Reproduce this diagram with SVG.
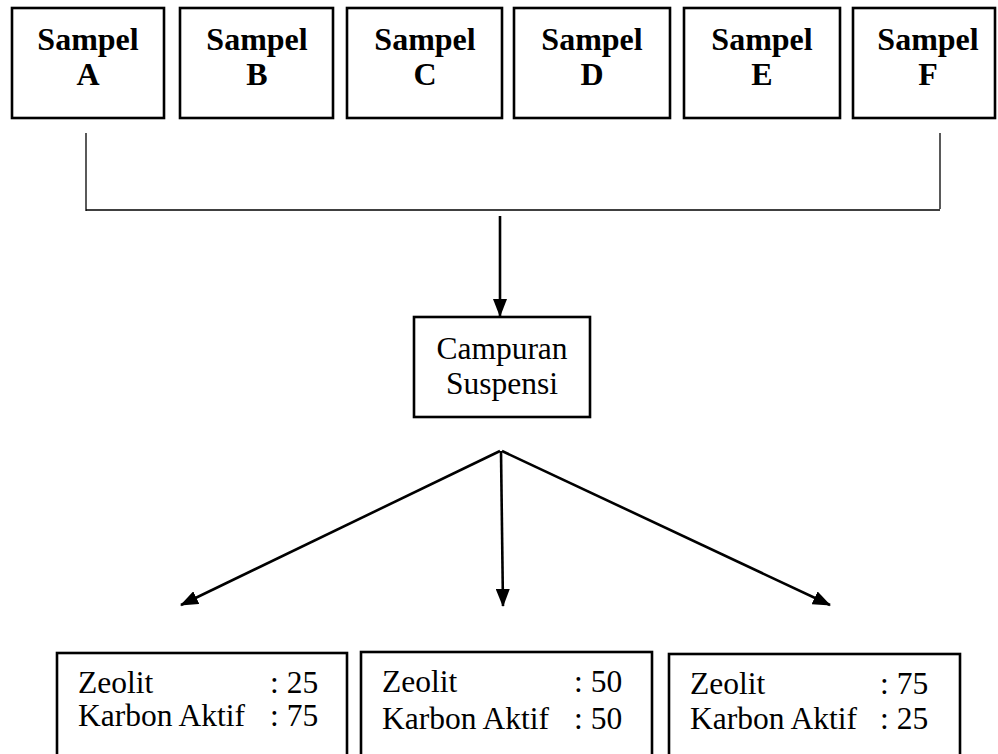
<svg xmlns="http://www.w3.org/2000/svg" width="998" height="754" viewBox="0 0 998 754">
  <defs>
    <marker id="arrow" viewBox="0 0 18 14" refX="17" refY="7" markerWidth="18" markerHeight="14" markerUnits="userSpaceOnUse" orient="auto">
      <path d="M0,0 L18,7 L0,14 Z" fill="#000"/>
    </marker>
    <style>
      .box { fill: #fff; stroke: #000; stroke-width: 2.6; }
      .thin { stroke: #000; stroke-width: 1.3; fill: none; }
      .arr { stroke: #000; stroke-width: 2.6; fill: none; marker-end: url(#arrow); }
      .bold { font-family: "Liberation Serif", "Times New Roman", serif; font-weight: bold; font-size: 32px; text-anchor: middle; fill: #000; }
      .reg { font-family: "Liberation Serif", "Times New Roman", serif; font-size: 31.5px; fill: #000; }
      .mid { text-anchor: middle; }
    </style>
  </defs>

  <rect width="998" height="754" fill="#fff"/>

  <!-- sample boxes -->
  <g id="sampelA">
    <rect class="box" x="12" y="8" width="152" height="110"/>
    <text class="bold" x="88" y="50">Sampel</text>
    <text class="bold" x="88" y="85">A</text>
  </g>
  <g id="sampelB">
    <rect class="box" x="180" y="8" width="153" height="110"/>
    <text class="bold" x="257" y="50">Sampel</text>
    <text class="bold" x="257" y="85">B</text>
  </g>
  <g id="sampelC">
    <rect class="box" x="347" y="8" width="155" height="110"/>
    <text class="bold" x="425" y="50">Sampel</text>
    <text class="bold" x="425" y="85">C</text>
  </g>
  <g id="sampelD">
    <rect class="box" x="514" y="8" width="156" height="110"/>
    <text class="bold" x="592" y="50">Sampel</text>
    <text class="bold" x="592" y="85">D</text>
  </g>
  <g id="sampelE">
    <rect class="box" x="684" y="8" width="156" height="110"/>
    <text class="bold" x="762" y="50">Sampel</text>
    <text class="bold" x="762" y="85">E</text>
  </g>
  <g id="sampelF">
    <rect class="box" x="853" y="8" width="142" height="110"/>
    <text class="bold" x="928" y="50">Sampel</text>
    <text class="bold" x="928" y="85">F</text>
  </g>

  <!-- mixing box -->
  <g id="campuran">
    <rect class="box" x="414" y="317" width="176" height="100"/>
    <text class="reg mid" x="502" y="359">Campuran</text>
    <text class="reg mid" x="502" y="394">Suspensi</text>
  </g>

  <!-- ratio boxes -->
  <g id="rasio1">
    <rect class="box" x="57" y="653" width="290" height="110"/>
    <text class="reg" x="78" y="693">Zeolit</text>
    <text class="reg" x="270" y="693">: 25</text>
    <text class="reg" x="78" y="726">Karbon Aktif</text>
    <text class="reg" x="270" y="726">: 75</text>
  </g>
  <g id="rasio2">
    <rect class="box" x="361" y="652" width="291" height="110"/>
    <text class="reg" x="382" y="692">Zeolit</text>
    <text class="reg" x="574" y="692">: 50</text>
    <text class="reg" x="382" y="729">Karbon Aktif</text>
    <text class="reg" x="574" y="729">: 50</text>
  </g>
  <g id="rasio3">
    <rect class="box" x="669" y="654" width="291" height="110"/>
    <text class="reg" x="690" y="694">Zeolit</text>
    <text class="reg" x="880" y="694">: 75</text>
    <text class="reg" x="690" y="729">Karbon Aktif</text>
    <text class="reg" x="880" y="729">: 25</text>
  </g>

  <!-- connectors -->
  <g id="connectors">
    <line class="thin" x1="86" y1="133" x2="86" y2="211"/>
    <line class="thin" x1="940" y1="133" x2="940" y2="209"/>
    <line class="thin" x1="86" y1="210" x2="940" y2="210"/>
    <line class="arr" x1="500" y1="216" x2="500" y2="316"/>
    <line class="arr" x1="500" y1="451" x2="181" y2="605"/>
    <line class="arr" x1="501" y1="451" x2="503" y2="606"/>
    <line class="arr" x1="502" y1="451" x2="830" y2="605"/>
  </g>
</svg>
